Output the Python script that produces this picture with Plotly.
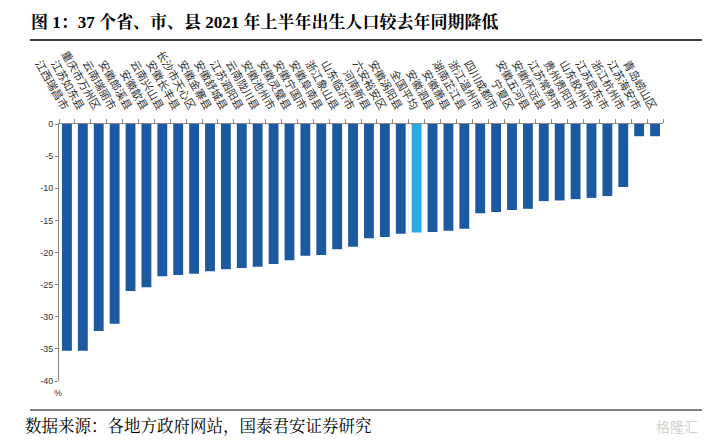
import plotly.graph_objects as go

categories = ["江西瑞昌市", "江苏如东县", "重庆市万州区", "云南瑞丽市", "安徽郎溪县", "安徽歙县",
              "云南兴山县", "安徽长丰县", "长沙市天心区", "安徽金寨县", "安徽舒城县", "江苏泗阳县",
              "云南陇川县", "安徽池州市", "安徽灵璧县", "安徽宁国市", "安徽阜南县", "浙江象山县",
              "山东临沂市", "河南新县", "六安裕安区", "安徽涡阳县", "全国平均", "安徽泗县",
              "安徽萧县", "湖南芷江县", "浙江温州市", "四川成都市", "宁夏区", "安徽五河县",
              "安徽怀远县", "江苏常熟市", "贵州贵阳市", "山东胶州市", "江苏启东市", "浙江杭州市",
              "江苏海安市", "青岛崂山区"]
values = [-35.3, -35.3, -32.2, -31.1, -26.0, -25.4, -23.7, -23.5, -23.3, -22.9, -22.6, -22.4,
          -22.2, -21.8, -21.2, -20.5, -20.4, -19.5, -19.1, -17.8, -17.6, -17.1, -16.9, -16.8,
          -16.6, -16.3, -13.9, -13.7, -13.4, -13.2, -12.0, -11.9, -11.7, -11.5, -11.2, -9.8,
          -1.9, -1.9]
highlight = "全国平均"
y_ticks = [0, -5, -10, -15, -20, -25, -30, -35, -40]

dark = "#1B5AA0"
light = "#29A9E1"
colors = [light if c == highlight else dark for c in categories]

serif = "Liberation Serif, Noto Serif CJK SC, Noto Sans CJK SC, serif"
cjk = "Noto Sans CJK SC, sans-serif"

L, T, W, H = 59, 124, 604, 257  # plot area in pixels

fig = go.Figure(go.Bar(x=categories, y=values, marker=dict(color=colors, line=dict(width=0)),
                       width=0.62, hoverinfo="x+y"))

fig.update_layout(
    width=712, height=441,
    margin=dict(l=L, r=712 - L - W, t=T, b=441 - T - H, autoexpand=False),
    paper_bgcolor="white", plot_bgcolor="white",
    showlegend=False,
    font=dict(family=cjk, color="#000"),
    xaxis=dict(side="top", tickangle=60, tickfont=dict(size=11, family=cjk, color="#333"),
               showline=True, linecolor="#888", linewidth=1, automargin=False,
               ticks="outside", ticklen=4, tickcolor="#888", tickson="boundaries",
               showgrid=False, zeroline=False, ticklabelstandoff=5),
    yaxis=dict(range=[-40, 0], tickvals=y_ticks, ticktext=[str(v) for v in y_ticks],
               tickfont=dict(size=9, family="Liberation Sans, Arial", color="#333"),
               showline=True, linecolor="#888", linewidth=1, automargin=False,
               ticks="outside", ticklen=3, tickcolor="#888",
               showgrid=False, zeroline=False),
)


def px(xp):
    return (xp - L) / W


def py(yp):
    return 1 - (yp - T) / H


fig.add_annotation(text="<b>图 1：37 个省、市、县 2021 年上半年出生人口较去年同期降低</b>",
                   xref="paper", yref="paper", x=px(29), y=py(22),
                   xanchor="left", yanchor="middle", showarrow=False,
                   font=dict(size=17, family=serif, color="#000"))
fig.add_annotation(text="%", xref="paper", yref="paper", x=px(58), y=py(393),
                   xanchor="center", yanchor="middle", showarrow=False,
                   font=dict(size=9, family="Liberation Sans, Arial", color="#333"))
fig.add_annotation(text="数据来源：各地方政府网站，国泰君安证券研究",
                   xref="paper", yref="paper", x=px(23), y=py(426),
                   xanchor="left", yanchor="middle", showarrow=False,
                   font=dict(size=16.5, family=serif, color="#000"))
fig.add_annotation(text="格隆汇",
                   xref="paper", yref="paper", x=px(700), y=py(426),
                   xanchor="right", yanchor="middle", showarrow=False,
                   font=dict(size=14, family=cjk, color="#d0d0d0"))

fig.add_shape(type="line", xref="paper", yref="paper",
              x0=px(30), x1=px(702), y0=py(40), y1=py(40),
              line=dict(color="#000", width=1.5))
fig.add_shape(type="line", xref="paper", yref="paper",
              x0=px(30), x1=px(702), y0=py(410), y1=py(410),
              line=dict(color="#000", width=1))

fig.write_html("out.html", config={"displayModeBar": False},
               post_script="document.body.style.margin='0';document.body.style.padding='0';"
                           "document.body.style.overflow='hidden';")
